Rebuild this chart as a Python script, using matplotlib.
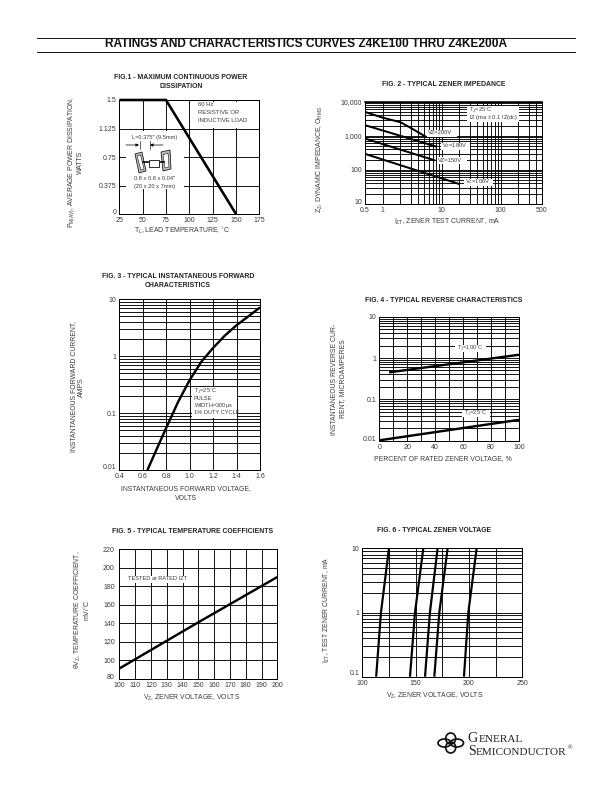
import matplotlib
matplotlib.use("Agg")
import matplotlib.pyplot as plt
from matplotlib.patches import Rectangle, Polygon, Ellipse
from matplotlib.transforms import Affine2D

plt.rcParams['font.family'] = ['Liberation Sans', 'DejaVu Sans']
plt.rcParams['mathtext.fontset'] = 'custom'
plt.rcParams['mathtext.rm'] = 'Liberation Sans'
plt.rcParams['mathtext.default'] = 'rm'

INK = '#000000'
TXT = '#3a3a3a'
W, H = 612, 792

# ---------- data ----------
fig1_temp = [25, 75, 150]
fig1_power = [1.5, 1.5, 0]
fig1_xticks = [25, 50, 75, 100, 125, 150, 175]
fig1_yticks = [0, 0.375, 0.75, 1.125, 1.5]
fig1_ylabels = ['0', '0.375', '0.75', '1.125', '1.5']

fig2_i_200 = [0.5, 1, 2, 3, 5.6]
fig2_z_200 = [5000, 3400, 2500, 1700, 900]
fig2_i_180 = [0.5, 8.2]
fig2_z_180 = [2050, 480]
fig2_i_150 = [0.5, 7.7]
fig2_z_150 = [830, 190]
fig2_i_100 = [0.5, 20.5]
fig2_z_100 = [295, 38]
fig2_xticks = [0.5, 1, 10, 100, 500]
fig2_xlabels = ['0.5', '1', '10', '100', '500']
fig2_yticks = [10, 100, 1000, 10000]
fig2_ylabels = ['10', '100', '1,000', '10,000']

fig3_v = [0.64, 0.7, 0.8, 0.9, 1.0, 1.1, 1.2, 1.3, 1.4, 1.5, 1.6]
fig3_i = [0.01, 0.019, 0.055, 0.155, 0.38, 0.8, 1.4, 2.3, 3.5, 5.0, 7.2]
fig3_xticks = [0.4, 0.6, 0.8, 1.0, 1.2, 1.4, 1.6]
fig3_yticks = [0.01, 0.1, 1, 10]
fig3_ylabels = ['0.01', '0.1', '1', '10']

fig4_pct_100 = [7, 100]
fig4_ir_100 = [0.45, 1.2]
fig4_pct_25 = [0, 100]
fig4_ir_25 = [0.0102, 0.032]
fig4_xticks = [0, 20, 40, 60, 80, 100]
fig4_xgrid = [10, 30, 50, 70, 90]
fig4_yticks = [0.01, 0.1, 1, 10]
fig4_ylabels = ['0.01', '0.1', '1', '10']

fig5_vz = [100, 150, 200]
fig5_tc = [91, 141, 190]
fig5_xticks = list(range(100, 201, 10))
fig5_yticks = list(range(80, 221, 20))

fig6_i = [0.1, 1, 10]
fig6_curves = [[113, 117.5, 125], [144.7, 149.4, 157.2], [158.8, 163.4, 170.6],
               [167.5, 172.2, 180], [195.3, 199.4, 207.2]]
fig6_xticks = [100, 150, 200, 250]
fig6_xgrid = [125, 175, 225]
fig6_yticks = [0.1, 1, 10]
fig6_ylabels = ['0.1', '1', '10']

fig = plt.figure(figsize=(W / 72, H / 72), dpi=72, facecolor='white')


def axes_px(l, t, r, b):
    ax = fig.add_axes([l / W, 1 - b / H, (r - l) / W, (b - t) / H])
    ax.set_facecolor('white')
    for s in ax.spines.values():
        s.set_linewidth(1.0)
        s.set_color(INK)
    ax.set_axisbelow(True)
    ax.tick_params(which='both', length=0, labelsize=7, labelcolor=TXT, pad=3)
    ax.grid(True, which='major', color=INK, lw=0.9)
    return ax


def log_minor(lo, hi):
    out = []
    d = lo
    while d < hi:
        out += [d * k for k in range(2, 10) if d * k < hi]
        d *= 10
    return out


def lift_lowest(ax, px):
    lab = ax.get_yticklabels()[0]
    lab.set_transform(lab.get_transform() + Affine2D().translate(0, px))


# Fig 1
ax1 = axes_px(119.3, 100, 259.3, 214)
ax1.plot(fig1_temp, fig1_power, color=INK, lw=2.6, solid_capstyle='butt', solid_joinstyle='miter', clip_on=False)
ax1.set_xlim(25, 175)
ax1.set_ylim(0, 1.5)
ax1.set_xticks(fig1_xticks)
ax1.set_yticks(fig1_yticks, fig1_ylabels)
lift_lowest(ax1, 2.3)

# Fig 2
ax2 = axes_px(365, 101.7, 541.7, 204)
ax2.set_xscale('log')
ax2.set_yscale('log')
for xs, ys in [(fig2_i_200, fig2_z_200), (fig2_i_180, fig2_z_180), (fig2_i_150, fig2_z_150), (fig2_i_100, fig2_z_100)]:
    ax2.plot(xs, ys, color=INK, lw=2.0, solid_capstyle='butt')
ax2.set_xlim(0.5, 500)
ax2.set_ylim(10, 10000)
ax2.set_xticks(fig2_xticks, fig2_xlabels)
ax2.set_xticks([x for x in log_minor(1, 500)], minor=True, labels=[])
ax2.set_yticks(fig2_yticks, fig2_ylabels)
ax2.set_yticks(log_minor(10, 10000), minor=True, labels=[])
ax2.grid(True, which='minor', color=INK, lw=0.9)
ax2.spines['top'].set_linewidth(1.6)
lift_lowest(ax2, 2.3)

# Fig 3
ax3 = axes_px(119.3, 299.3, 260, 470)
ax3.set_yscale('log')
ax3.plot(fig3_v, fig3_i, color=INK, lw=2.4, solid_capstyle='butt')
ax3.set_xlim(0.4, 1.6)
ax3.set_ylim(0.01, 10)
ax3.set_xticks(fig3_xticks, ['%.1f' % v for v in fig3_xticks])
ax3.set_yticks(fig3_yticks, fig3_ylabels)
ax3.set_yticks(log_minor(0.01, 10), minor=True, labels=[])
ax3.grid(True, which='minor', axis='y', color=INK, lw=0.9)
lift_lowest(ax3, 3.3)

# Fig 4
ax4 = axes_px(379.3, 316.7, 519, 440.7)
ax4.set_yscale('log')
ax4.plot(fig4_pct_100, fig4_ir_100, color=INK, lw=2.4, solid_capstyle='butt')
ax4.plot(fig4_pct_25, fig4_ir_25, color=INK, lw=2.4, solid_capstyle='butt')
ax4.set_xlim(0, 100)
ax4.set_ylim(0.01, 10)
ax4.set_xticks(fig4_xticks)
ax4.set_xticks(fig4_xgrid, minor=True, labels=[])
ax4.set_yticks(fig4_yticks, fig4_ylabels)
ax4.set_yticks(log_minor(0.01, 10), minor=True, labels=[])
ax4.grid(True, which='minor', color=INK, lw=0.9)
lift_lowest(ax4, 1.8)

# Fig 5
ax5 = axes_px(119.3, 549.3, 277.3, 678.7)
ax5.plot(fig5_vz, fig5_tc, color=INK, lw=2.4, solid_capstyle='butt')
ax5.set_xlim(100, 200)
ax5.set_ylim(80, 220)
ax5.set_xticks(fig5_xticks)
ax5.set_yticks(fig5_yticks)
ax5.tick_params(axis='y', pad=4.5)
lift_lowest(ax5, 2.0)

# Fig 6
ax6 = axes_px(362.3, 548.3, 522.3, 676.7)
ax6.set_yscale('log')
for c in fig6_curves:
    ax6.plot(c, fig6_i, color=INK, lw=2.2, solid_capstyle='butt')
ax6.set_xlim(100, 250)
ax6.set_ylim(0.1, 10)
ax6.set_xticks(fig6_xticks)
ax6.set_xticks(fig6_xgrid, minor=True, labels=[])
ax6.set_yticks(fig6_yticks, fig6_ylabels)
ax6.set_yticks(log_minor(0.1, 10), minor=True, labels=[])
ax6.grid(True, which='minor', color=INK, lw=0.9)
lift_lowest(ax6, 4.5)

# ---------- overlay in page pixels ----------
ov = fig.add_axes([0, 0, 1, 1], zorder=10)
ov.set_xlim(0, W)
ov.set_ylim(H, 0)
ov.axis('off')
ov.patch.set_alpha(0)


def T(x, y, s, size=6, ha='center', weight='normal', color=TXT, rot=0, family=None):
    kw = {'family': family} if family else {}
    ov.text(x, y, s, fontsize=size, ha=ha, va='center', fontweight=weight, color=color, rotation=rot, **kw)


def box(l, t, r, b):
    ov.add_patch(Rectangle((l, t), r - l, b - t, fc='white', ec='none', zorder=0.5))


# header
ov.plot([37.3, 575], [37.5, 37.5], color=INK, lw=0.9)
ov.plot([37.3, 575], [51.5, 51.5], color=INK, lw=0.9)
T(305.8, 44, 'RATINGS AND CHARACTERISTICS CURVES Z4KE100 THRU Z4KE200A', size=11.9, weight='bold', color='#111111')

# titles
for x, y, s in [(180.7, 77.3, 'FIG.1 - MAXIMUM CONTINUOUS POWER'), (180.7, 86, 'DISSIPATION'),
                (444, 84.3, 'FIG. 2 - TYPICAL ZENER IMPEDANCE'),
                (178, 276.7, 'FIG. 3 - TYPICAL INSTANTANEOUS FORWARD'), (178, 285.7, 'CHARACTERISTICS'),
                (444, 300, 'FIG. 4 - TYPICAL REVERSE CHARACTERISTICS'),
                (193, 531.7, 'FIG. 5 - TYPICAL TEMPERATURE COEFFICIENTS'),
                (434, 530.7, 'FIG. 6 - TYPICAL ZENER VOLTAGE')]:
    T(x, y, s, size=6.9, weight='bold', color='#222222')

# x labels
for x, y, s in [(181.7, 231.7, r'T$_{L}$, LEAD TEMPERATURE, $^{\circ}$C'),
                (447, 221.7, r'I$_{ZT}$, ZENER TEST CURRENT, mA'),
                (186, 489, 'INSTANTANEOUS FORWARD VOLTAGE,'), (186, 498, 'VOLTS'),
                (443, 459, 'PERCENT OF RATED ZENER VOLTAGE, %'),
                (192, 698, r'V$_{Z}$, ZENER VOLTAGE, VOLTS'),
                (435, 695.7, r'V$_{Z}$, ZENER VOLTAGE, VOLTS')]:
    T(x, y, s, size=6.9)

# y labels
for x, y, s in [(71.7, 162, r'P$_{M(AV)}$, AVERAGE POWER DISSIPATION,'), (80, 162, 'WATTS'),
                (320, 159, r'Z$_{Z}$, DYNAMIC IMPEDANCE, O$_{HMS}$'),
                (74, 386.7, 'INSTANTANEOUS FORWARD CURRENT,'), (81.7, 386.7, 'AMPS'),
                (335, 379, 'INSTANTANEOUS REVERSE CUR-'), (343, 379, 'RENT, MICROAMPERES'),
                (78, 610, r'$\theta$V$_{Z}$, TEMPERATURE COEFFICIENT,'), (86.7, 610, r'mV/$^{\circ}$C'),
                (326.7, 610, r'I$_{ZT}$, TEST ZENER CURRENT, mA')]:
    T(x, y, s, size=6.9, rot=90)

# Fig 1 notes
box(196, 102, 252, 127.5)
T(198, 105, '60 Hz', size=5.9, ha='left')
T(198, 112.5, 'RESISTIVE OR', size=5.9, ha='left')
T(198, 120, 'INDUCTIVE LOAD', size=5.9, ha='left')
box(126, 131, 184, 189)
T(155, 137, 'L=0.375" (9.5mm)', size=5.6)
T(155, 179, '0.8 x 0.8 x 0.04"', size=5.6)
T(155, 186.7, '(20 x 20 x 7mm)', size=5.6)
ov.annotate('', xy=(139, 145), xytext=(126, 145), arrowprops=dict(arrowstyle='-|>', color=INK, lw=0.7, mutation_scale=6, shrinkA=0, shrinkB=0))
ov.annotate('', xy=(150, 145), xytext=(163, 145), arrowprops=dict(arrowstyle='-|>', color=INK, lw=0.7, mutation_scale=6, shrinkA=0, shrinkB=0))
ov.plot([139.5, 139.5], [141, 149], color=INK, lw=0.6)
ov.plot([149.5, 149.5], [141, 149], color=INK, lw=0.6)
for pts in [[(135, 154), (142, 152), (146, 171), (139, 173)], [(161, 152), (170, 150), (171, 169), (163, 171)]]:
    ov.add_patch(Polygon(pts, closed=True, fc='#bbbbbb', ec=INK, lw=0.7))
for pts in [[(137, 156), (140.5, 155), (144, 169), (141, 170)], [(163, 155), (168, 153), (169, 167), (165, 168)]]:
    ov.add_patch(Polygon(pts, closed=True, fc='white', ec=INK, lw=0.5))
ov.plot([143, 149], [162, 162], color=INK, lw=1.6)
ov.plot([158, 164], [162, 162], color=INK, lw=1.6)
ov.add_patch(Rectangle((148.5, 159.5), 10, 7, fc='white', ec=INK, lw=0.8, zorder=3))

# Fig 2 notes
box(467, 106, 519, 122)
T(469, 110, r'T$_{J}$=25$^{\circ}$C', size=5.7, ha='left')
T(469, 118, r'IZ (ma $\pm$ 0.1 IZ(dc)', size=5.7, ha='left')
for l, y, r, s in [(427, 133, 457, r'VZ=200V'), (441, 146, 470, r'V$_{Z}$=180V'),
                   (437, 160, 467, r'VZ=150V'), (464, 182, 493, r'V$_{Z}$=100V')]:
    box(l, y - 3.5, r, y + 3.5)
    T(l + 1, y, s, size=5.7, ha='left')

# Fig 3 notes
box(192, 387, 237, 418)
for y, s in [(391, r'T$_{J}$=25$^{\circ}$C'), (398, 'PULSE'), (405, r'WIDTH=300$\mu$s'), (413, '1% DUTY CYCLE')]:
    T(194, y, s, size=5.6, ha='left')

# Fig 4 notes
box(455, 344.5, 486, 352)
T(470, 348, r'T$_{J}$=100$^{\circ}$C', size=5.6)
box(462, 409.5, 490, 417)
T(476, 413, r'T$_{J}$=25$^{\circ}$C', size=5.6)

# Fig 5 note
box(125, 575.5, 190, 582.5)
T(128, 579, 'TESTED at RATED IZT', size=5.6, ha='left')

# logo
for cx, cy, w, h in [(444.5, 743, 13, 8), (457, 743, 13, 8), (450.7, 738.5, 10, 11), (450.7, 747.5, 10, 11)]:
    ov.add_patch(Ellipse((cx, cy), w, h, fc='none', ec='#111111', lw=1.7))
serif = 'Liberation Serif'
def caps(x, y, first, rest, big=14, small=11.2):
    t1 = ov.text(x, y, first, fontsize=big, family=serif, color='#222222', ha='left', va='baseline')
    r = fig.canvas.get_renderer()
    bb = t1.get_window_extent(r)
    return ov.text(x + bb.width + 0.3, y, rest, fontsize=small, family=serif, color='#222222', ha='left', va='baseline')
caps(467.7, 741.7, 'G', 'ENERAL')
caps(467.7, 755, 'S', 'EMICONDUCTOR')
ov.text(568, 749, '\u00ae', fontsize=6, family=serif, color='#222222', ha='left', va='baseline')

fig.savefig('out.png', dpi=72, facecolor='white')
